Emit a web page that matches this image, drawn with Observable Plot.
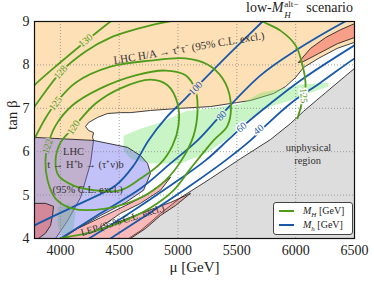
<!DOCTYPE html>
<html><head><meta charset="utf-8">
<script src="https://cdn.jsdelivr.net/npm/d3@7"></script>
<script src="https://cdn.jsdelivr.net/npm/@observablehq/plot@0.6"></script>
<style>
body{margin:0;background:#fff;}
#wrap{position:relative;width:374px;height:282px;font-family:"Liberation Serif",serif;color:#222;}
#title{position:absolute;right:21px;top:1px;font-size:14px;line-height:14px;white-space:nowrap;}
.ss{display:inline-block;position:relative;width:23px;height:14px;vertical-align:top;}
.ss .sp{position:absolute;left:1px;top:-4px;font-size:9px;}
.ss .sb{position:absolute;left:1px;top:7px;font-size:9px;font-style:italic;}
#legend{position:absolute;left:273px;top:202px;width:80px;height:33px;box-sizing:border-box;border:1px solid #444;border-radius:3px;background:#fff;font-size:10px;}
#legend .ln{position:absolute;left:5px;width:15px;height:2px;}
#legend .tx{position:absolute;left:29px;line-height:10px;white-space:nowrap;}
</style></head><body>
<div id="wrap"><div id="chart"></div>
<div id="title">low-<i>M</i><span class="ss"><span class="sp">alt−</span><span class="sb">H</span></span>scenario</div>
<div id="legend">
 <div class="ln" style="top:7px;background:#4f9c1a"></div><div class="tx" style="top:3px"><i>M</i><sub style="font-size:7px"><i>H</i></sub> [GeV]</div>
 <div class="ln" style="top:21px;background:#1859a9"></div><div class="tx" style="top:17px"><i>M</i><sub style="font-size:7px"><i>h</i></sub> [GeV]</div>
</div>
</div>
<script>
const muDomain = [3780, 6500];
const tanbDomain = [4, 9];
const muTicks = [4000, 4500, 5000, 5500, 6000, 6500];
const tanbTicks = [4, 5, 6, 7, 8, 9];
const muGrid = [4000, 4500, 5000, 5500, 6000];
const tanbGrid = [5, 6, 7, 8];

// regions [mu, tanb]
const unphysical = [[4560,3.9],[4579,4.00],[4681,4.18],[4760,4.36],[4851,4.58],[5021,4.94],[5276,5.38],[5531,5.84],[5786,6.28],[5956,6.65],[6067,6.93],[6254,7.36],[6500,7.92],[6600,8.05],[6600,3.9]];
const exclHA = [[3700,9.3],[6600,9.3],[6600,8.55],[6500,8.52],[6352,8.38],[6194,8.15],[6067,7.94],[5999,7.71],[5914,7.50],[5812,7.34],[5616,7.18],[5276,7.04],[5021,7.00],[4766,6.95],[4596,6.90],[4511,6.90],[4401,6.88],[4316,6.79],[4239,6.67],[4214,6.58],[4239,6.49],[4282,6.44],[4273,6.33],[4282,6.26],[4256,5.73],[4171,4.94],[4061,4.41],[3959,4.00],[3950,3.9],[3700,3.9]];
const allowed = [[4537,6.37],[4681,6.53],[4851,6.67],[5064,6.93],[5276,7.00],[5531,7.10],[5701,7.36],[5897,7.46],[6041,7.55],[6279,7.59],[6279,7.50],[6126,7.36],[5956,7.18],[5786,7.04],[5659,6.86],[5531,6.60],[5421,6.30],[5251,5.98],[5021,5.73],[4766,5.73],[4596,5.84],[4537,6.03]];
const allowedLow = [[3976,4.72],[4069,4.81],[4129,4.60],[4112,4.23],[4018,4.05],[3976,4.30]];
const exclTHb = [[3700,6.33],[3780,6.33],[4282,6.26],[4571,6.10],[4681,5.91],[4741,5.73],[4766,5.50],[4707,5.11],[4554,4.83],[4341,4.53],[4146,4.23],[4001,4.00],[3990,3.9],[3700,3.9]];
const exclLEP = [[4018,4.00],[4146,4.23],[4341,4.48],[4554,4.76],[4724,4.99],[4936,5.41],[4851,5.11],[4681,4.81],[4511,4.58],[4299,4.18],[4681,4.58],[4936,4.83],[5106,5.04],[4979,4.76],[4851,4.53],[4724,4.23],[4596,4.00],[4590,3.9],[4010,3.9]];
const exclCorner = [[3750,4.81],[3873,4.81],[3942,4.74],[3933,4.53],[3916,4.30],[3873,4.12],[3814,4.00],[3800,3.9],[3750,3.9]];
const exclTop = [[6024,8.06],[6126,8.38],[6254,8.63],[6381,8.81],[6500,8.95],[6600,8.99],[6600,8.60],[6500,8.63],[6356,8.49],[6194,8.26],[6067,8.08]];

// M_h contours (blue)
const mh100 = [[3700,4.15],[3780,4.30],[4171,4.81],[4469,5.22],[4622,5.68],[4749,6.26],[4894,6.77],[5064,7.23],[5378,8.10],[5718,9.00],[5829,9.30]];
const mh80 = [[3933,3.88],[4001,4.00],[4341,4.58],[4681,5.15],[4936,5.73],[5166,6.26],[5361,6.83],[5701,7.76],[5999,8.33],[6420,9.00],[6551,9.18]];
const mh60 = [[4171,3.88],[4596,4.60],[4936,5.22],[5234,5.80],[5421,6.26],[5557,6.60],[5786,7.11],[6041,7.64],[6500,8.45],[6568,8.56]];
const mh40 = [[4341,3.84],[4426,4.00],[4766,4.60],[5106,5.22],[5404,5.80],[5616,6.26],[5718,6.53],[5956,7.11],[6211,7.59],[6500,8.15],[6568,8.26]];
// M_H contours (green)
const mH130 = [[3746,7.41],[3780,7.53],[4001,8.06],[4214,8.54],[4426,9.00],[4511,9.16]];
const mH128 = [[3746,6.93],[3780,7.04],[4001,7.83],[4214,8.31],[4426,8.63],[4766,8.91],[5064,9.07]];
const mH125 = [[3746,6.12],[3780,6.30],[3873,6.77],[3959,7.11],[4129,7.59],[4426,7.96],[4766,8.10],[5064,8.15],[5251,8.01],[5378,7.69],[5446,7.18],[5421,6.60],[5302,6.26],[5106,5.61],[4962,5.11],[4766,4.71],[4511,4.37],[4256,4.14],[4001,4.00],[3873,3.91]];
const mH125b = [[5616,9.16],[5718,9.00],[5871,8.79],[5999,8.45],[6058,7.99],[6084,7.53],[6058,7.18],[6016,6.77]];
const mH122 = [[3891,6.12],[3959,6.60],[4103,7.07],[4341,7.46],[4639,7.76],[4894,7.87],[5064,7.76],[5149,7.41],[5166,6.95],[5132,6.37],[5038,5.84],[4894,5.34],[4681,4.94],[4384,4.69],[4103,4.69],[3959,4.92],[3891,5.34],[3873,5.80]];
const mH120 = [[4001,6.21],[4112,6.56],[4299,7.11],[4511,7.46],[4766,7.66],[4911,7.53],[4996,7.11],[5004,6.60],[4953,6.14],[4851,5.73],[4681,5.38],[4511,5.11],[4299,5.11],[4112,5.22],[3984,5.45],[3959,5.80]];

const mhLabels = [[5149,7.46,"100"],[5370,6.83,"80"],[5540,6.56,"60"],[5684,6.51,"40"]];
const mHLabels = [[4214,8.56,"130"],[4001,7.83,"128"],[3959,7.11,"125"],[4112,6.56,"120"],[3891,6.12,"122"],[6067,7.29,"125"]];
const notes = [[5093,8.39,"LHC H/A → τ⁺τ⁻ (95% C.L. excl.)"],[4112,6.01,"LHC"],[4214,5.71,"t → H⁺b → (τ⁺ν)b"],[4231,5.13,"(95% C.L. excl.)"],[6109,6.10,"unphysical"],[6101,5.80,"region"],[4528,4.42,"LEP (95% C.L. excl.)"]];

const blue = "#1859a9", green = "#4f9c1a", orange = "#fee0b6";
const pts = a => a.map(([mu, tanb]) => ({mu, tanb}));
const region = (a, fill, o = {}) => Plot.line(pts(a), {x: "mu", y: "tanb", curve: "linear-closed", fill, stroke: "#111", strokeWidth: 0.8, clip: true, ...o});
const contour = (a, stroke, closed) => Plot.line(pts(a), {x: "mu", y: "tanb", curve: closed ? "catmull-rom-closed" : "catmull-rom", stroke, strokeWidth: 1.8, clip: true});
const lab = (d, rotate, fill, halo, fontSize = 10) => Plot.text([d], {x: d => d[0], y: d => d[1], text: d => d[2], rotate, fill, stroke: halo, strokeWidth: halo ? 3 : 0, paintOrder: "stroke", fontSize});

const chart = Plot.plot({
  width: 374, height: 282,
  marginLeft: 34, marginRight: 20, marginTop: 21, marginBottom: 44,
  x: {domain: muDomain}, y: {domain: tanbDomain},
  style: {fontFamily: '"Liberation Serif", serif', fontSize: "14px", background: "white", color: "#222"},
  marks: [
    region(unphysical, "#dddddd"),
    region(exclHA, orange),
    region(allowed, "rgb(120,228,110)", {stroke: "none", fillOpacity: 0.4}),
    region(allowedLow, "rgb(120,228,110)", {stroke: "none", fillOpacity: 0.4}),
    region(exclTHb, "rgb(110,110,240)", {fillOpacity: 0.42}),
    region(exclLEP, "rgb(240,80,80)", {fillOpacity: 0.4}),
    region(exclCorner, "rgb(240,80,80)", {fillOpacity: 0.4}),
    region(exclTop, "rgb(240,80,80)", {fillOpacity: 0.45}),
    Plot.ruleX(muGrid, {stroke: "#888", strokeDasharray: "1,2", strokeWidth: 0.8}),
    Plot.ruleY(tanbGrid, {stroke: "#888", strokeDasharray: "1,2", strokeWidth: 0.8}),
    contour(mh100, blue), contour(mh80, blue), contour(mh60, blue), contour(mh40, blue),
    contour(mH130, green), contour(mH128, green), contour(mH125, green), contour(mH125b, green),
    contour(mH122, green, true), contour(mH120, green, true),
    lab(mhLabels[0], -46, blue, orange),
    lab(mhLabels[1], -46, blue, "#d8f4d2"),
    lab(mhLabels[2], -40, blue, "white"),
    lab(mhLabels[3], -38, blue, "white"),
    lab(mHLabels[0], -39, green, orange),
    lab(mHLabels[1], -50, green, orange),
    lab(mHLabels[2], -52, green, orange),
    lab(mHLabels[3], -55, green, orange),
    lab(mHLabels[4], -72, green, "#c3aec9"),
    lab(mHLabels[5], 85, green, "white"),
    lab(notes[0], -9.5, "#333", null, 11),
    lab(notes[1], 0, "#333", null, 10.5),
    lab(notes[2], 0, "#333", null, 10.5),
    lab(notes[3], 0, "#333", null, 10.5),
    lab(notes[4], 0, "#333", null, 10.5),
    lab(notes[5], 0, "#333", null, 10.5),
    lab(notes[6], -17, "#333", null, 10),
    Plot.frame({stroke: "#111", strokeWidth: 1.2}),
    Plot.axisX({ticks: muTicks, tickSize: 0, tickPadding: 7, tickFormat: d => String(d), label: null}),
    Plot.axisY({ticks: tanbTicks, tickSize: 0, tickPadding: 5, tickFormat: d => String(d), label: null}),
    Plot.text(["μ [GeV]"], {frameAnchor: "bottom", dy: 33, fontSize: 15}),
    Plot.text(["tan β"], {frameAnchor: "left", dx: -22, rotate: -90, fontSize: 15})
  ]
});
document.getElementById("chart").appendChild(chart);
</script>
</body></html>
